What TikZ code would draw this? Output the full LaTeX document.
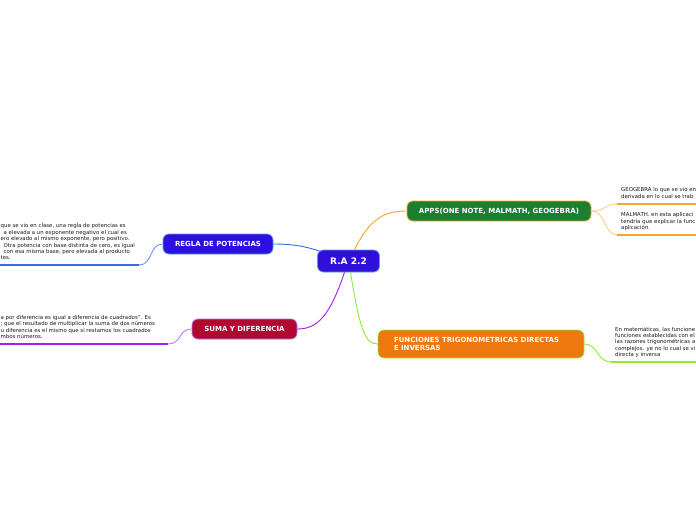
\documentclass[tikz,border=0pt]{standalone}
\usepackage{fontspec}
\setmainfont{DejaVu Sans}
\usetikzlibrary{calc}
\definecolor{cCenter}{HTML}{3010D8}
\definecolor{cCenterB}{HTML}{5A9AE8}
\definecolor{cReg}{HTML}{2C10E0}
\definecolor{cApps}{HTML}{1B7F30}
\definecolor{cAppsB}{HTML}{F4A530}
\definecolor{cFun}{HTML}{EC780E}
\definecolor{cFunB}{HTML}{94EC40}
\definecolor{cSum}{HTML}{B00830}
\definecolor{cSumB}{HTML}{B070F0}
\definecolor{lBlue}{HTML}{3868EE}
\definecolor{lOrange}{HTML}{F8A530}
\definecolor{lOrangeP}{HTML}{FFCC88}
\definecolor{lPurple}{HTML}{A41CF0}
\definecolor{lGreen}{HTML}{8CEC34}
\definecolor{txt}{HTML}{1A1A1A}
\begin{document}
\begin{tikzpicture}[x=1pt,y=-1pt,
  topic/.style={rounded corners=6pt, line width=0.8pt, text=white,
    font=\bfseries\fontsize{7}{8}\selectfont, inner sep=0pt, minimum height=20pt},
  body/.style={font=\fontsize{5.4}{6.4}\selectfont, text=txt, align=left,
    inner sep=0pt, anchor=north west},
  conn/.style={line width=0.9pt},
  uline/.style={line width=1.8pt}]
\clip (0,0) rectangle (696,520);
\fill[white] (0,0) rectangle (696,520);

% topics
\node[topic, fill=cCenter, draw=cCenterB, minimum width=62pt, minimum height=22pt,
  font=\bfseries\fontsize{9}{10}\selectfont] (c) at (348.5,261) {R.A 2.2};
\node[topic, fill=cApps, draw=cAppsB, minimum width=184pt] (apps) at (499,211)
  {APPS(ONE NOTE, MALMATH, GEOGEBRA)};
\node[topic, fill=cFun, draw=cFunB, text width=174pt, inner xsep=16pt, align=left,
  minimum height=28pt] (fun) at (481,344)
  {FUNCIONES TRIGONOMETRICAS DIRECTAS\\E INVERSAS};
\node[topic, fill=cReg, draw=cCenterB, minimum width=110pt] (reg) at (218,244)
  {REGLA DE POTENCIAS};
\node[topic, fill=cSum, draw=cSumB, minimum width=105pt] (sum) at (244.5,329)
  {SUMA Y DIFERENCIA};

% main connectors
\draw[conn, lBlue] (reg.east) .. controls (298,244) and (310,248) .. ($(c.north west)+(4,2)$);
\draw[conn, lOrange] ($(c.north)+(6,0)$) .. controls (370,218) and (385,211) .. (apps.west);
\draw[conn, lPurple] ($(c.south)+(-4,0)$) .. controls (330,315) and (318,329) .. (sum.east);
\draw[conn, lGreen] ($(c.south)+(2,0)$) .. controls (360,330) and (365,344) .. (fun.west);

% left: regla
\coordinate (rl) at (0,265);
\coordinate (re) at (139,265);
\draw[uline, lBlue] (rl) -- (re);
\draw[conn, lBlue!70] (re) .. controls (153,265) and (149,244) .. (reg.west);
\node[body] (treg) at (0.5,223.5) {que se vio en clase, una regla de potencias es\\
\hspace{3pt}a elevada a un exponente negativo el cual es\\
ero elevado al mismo exponente, pero positivo.\\
\hspace{3pt}Otra potencia con base distinta de cero, es igual\\
\hspace{3pt}con esa misma base, pero elevada al producto\\
tes.};

% left: suma
\coordinate (sl) at (0,344);
\coordinate (se) at (168,344);
\draw[uline, lPurple] (sl) -- (se);
\draw[conn, lPurple!60] (se) .. controls (182,344) and (178,329) .. (sum.west);
\node[body] (tsum) at (0.5,315) {a por diferencia es igual a diferencia de cuadrados''. Es\\
; que el resultado de multiplicar la suma de dos números\\
u diferencia es el mismo que si restamos los cuadrados\\
mbos números.};

% right: apps
\coordinate (a1) at (617,204);
\coordinate (a1e) at (696,204);
\coordinate (a2) at (617,235);
\coordinate (a2e) at (696,235);
\draw[conn, lOrangeP] (apps.east) .. controls (606,211) and (604,204) .. (a1);
\draw[conn, lOrangeP] (apps.east) .. controls (606,211) and (604,235) .. (a2);
\draw[uline, lOrange] (a1) -- (a1e);
\draw[uline, lOrange] (a2) -- (a2e);
\node[body] (tgeo) at (621,187.5) {GEOGEBRA lo que se vio en\\derivada en lo cual se trab};
\node[body] (tmal) at (621,212.5) {MALMATH. en esta aplicaci\\tendría que explicar la func\\aplicación.};

% right: funciones
\coordinate (f1) at (611,362);
\coordinate (f1e) at (696,362);
\draw[conn, lGreen] (fun.east) .. controls (598,344) and (597,362) .. (f1);
\draw[uline, lGreen] (f1) -- (f1e);
\node[body] (tfun) at (615,326.5) {En matemáticas, las funcione\\funciones establecidas con el\\las razones trigonométricas a\\complejos. ye no lo cual se vi\\directa y inversa};
\end{tikzpicture}
\end{document}
